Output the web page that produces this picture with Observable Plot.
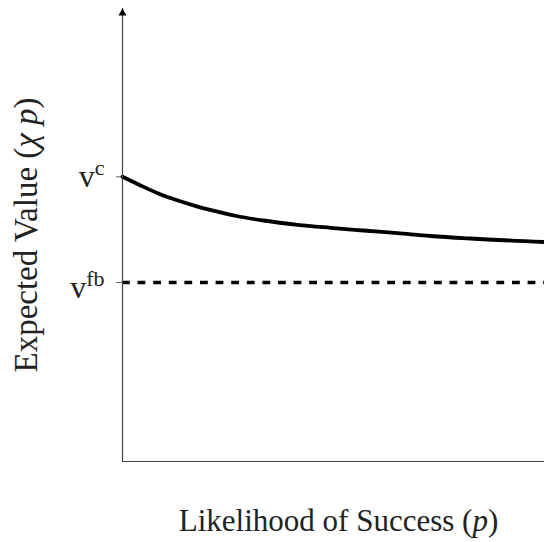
<!DOCTYPE html>
<html><head><meta charset="utf-8">
<script src="https://cdn.jsdelivr.net/npm/d3@7"></script>
<script src="https://cdn.jsdelivr.net/npm/@observablehq/plot@0.6"></script>
<style>body{margin:0;background:#fff}</style>
</head><body><div id="chart"></div>
<script>
// Data (arbitrary value units)
const pValues = [0, 0.038, 0.085, 0.133, 0.180, 0.227, 0.270, 0.334, 0.415, 0.493, 0.571, 0.652, 0.730, 0.825, 1];
const expectedValues = [284.7, 277, 268, 260.7, 254.7, 249.7, 245.5, 241, 236.7, 233.7, 231, 228.3, 225.5, 223, 219.5];
const vC = 284.7;
const vFB = 179;
const tickValues = [vC, vFB];
const tickLabels = ["v^{c}", "v^{fb}"];
const xLabel = "Likelihood of Success (*p*)";
const yLabel = "Expected Value (*χ* *p*)";
const yMax = 453;

const curveData = pValues.map((p, i) => ({p, v: expectedValues[i]}));

const plot = Plot.plot({
  width: 544,
  height: 542,
  marginLeft: 122,
  marginRight: 0,
  marginTop: 8,
  marginBottom: 81,
  style: {fontFamily: "'Liberation Serif', serif", fontSize: "30px", background: "#fff", overflow: "visible", color: "#222"},
  x: {domain: [0, 1], axis: null},
  y: {domain: [0, yMax], axis: null},
  marks: [
    Plot.axisY({ticks: tickValues, tickFormat: d => tickLabels[tickValues.indexOf(d)], tickSize: 6, tickPadding: 12, stroke: "#666", label: null, fontSize: 32}),
    Plot.ruleY([vFB], {stroke: "#000", strokeWidth: 3.5, strokeDasharray: "7.8,7.8"}),
    Plot.line(curveData, {x: "p", y: "v", curve: "monotone-x", stroke: "#000", strokeWidth: 3.8}),
    Plot.ruleX([0], {stroke: "#444", strokeWidth: 1.2}),
    Plot.ruleY([0], {stroke: "#444", strokeWidth: 1.2}),
    Plot.dot([{p: 0, v: yMax}], {x: "p", y: "v", symbol: "triangle", r: 3, fill: "#000", stroke: null, dy: 4.6}),
    Plot.text([xLabel], {frameAnchor: "bottom", dy: 69, dx: 5, text: d => d, fontSize: 31}),
    Plot.text([yLabel], {frameAnchor: "left", textAnchor: "middle", dx: -96, rotate: -90, text: d => d, fontSize: 33})
  ]
});

function markup(el) {
  const s = el.textContent;
  if (!/[\^*]/.test(s)) return;
  const parts = s.split(/(\^\{[^}]*\}|\*[^*]*\*)/).filter(x => x);
  el.textContent = "";
  let supAsc = false;
  const spans = [];
  for (const part of parts) {
    const t = document.createElementNS("http://www.w3.org/2000/svg", "tspan");
    if (part.startsWith("^{")) {
      const txt = part.slice(2, -1);
      t.textContent = txt;
      t.setAttribute("font-size", "22");
      t.setAttribute("dy", "-12");
      if (/[bdfhklt]/.test(txt)) supAsc = true;
    } else if (part.startsWith("*")) {
      t.textContent = part.slice(1, -1);
      t.setAttribute("font-style", "italic");
    } else {
      t.textContent = part;
    }
    spans.push(t);
    el.appendChild(t);
  }
  if (supAsc) spans[0].setAttribute("dy", "5");
}
d3.select(plot).selectAll("text").each(function() { markup(this); });

document.getElementById("chart").appendChild(plot);
</script>
</body></html>
